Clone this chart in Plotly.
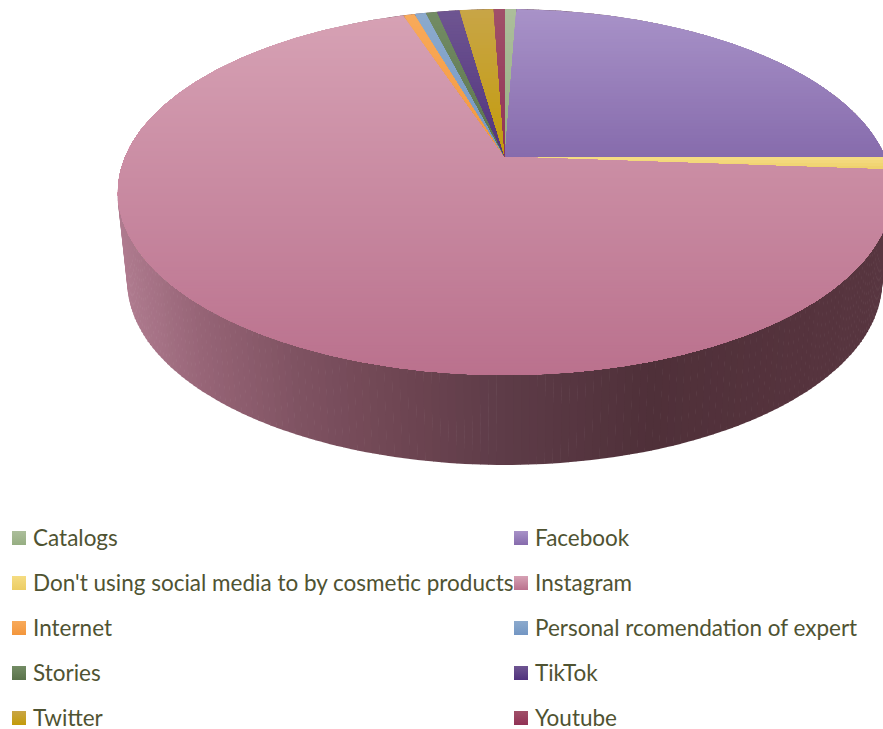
import numpy as np
import plotly.graph_objects as go

# Responses per source
categories = ["Catalogs", "Facebook", "Don't using social media to by cosmetic products",
              "Instagram", "Internet", "Personal rcomendation of expert",
              "Stories", "TikTok", "Twitter", "Youtube"]
counts = [1, 43, 2, 121, 1, 1, 1, 2, 3, 1]

# Vertical gradient per slice: upper and lower colour
upper_colors = [(172, 190, 155), (168, 146, 200), (245, 220, 130), (214, 161, 180), (248, 170, 90),
                (140, 170, 205), (115, 140, 100), (110, 85, 145), (200, 165, 70), (160, 80, 105)]
lower_colors = [(150, 174, 130), (134, 107, 172), (236, 205, 100), (186, 113, 141), (243, 150, 60),
                (115, 150, 195), (90, 115, 75), (80, 50, 125), (195, 155, 10), (145, 50, 85)]

# Shading of the outer wall from left to right
wall_stops_x = [118, 200, 300, 400, 500, 650, 800, 890]
wall_stops_rgb = [(176, 124, 144), (150, 100, 118), (126, 82, 97), (110, 69, 82),
                  (94, 60, 72), (79, 48, 57), (85, 51, 61), (88, 54, 64)]

# Perspective disc: horizontal and vertical scale, tilt, hub position, extrusion
DISC_A, DISC_B, TILT = 380.0, 176.3, 0.191
HUB_X, HUB_Y = 505.0, 157.0
TOP_CENTER_Y, BASE_CENTER_Y = 192.0, 282.0
BASE_WIDTH_RATIO = 377.0 / 387.0


def project(theta):
    """Map a clockwise angle from twelve o'clock to a point on the tilted disc."""
    u, v = np.sin(theta), -np.cos(theta)
    w = 1 - TILT * v
    return HUB_X + DISC_A * u / w, HUB_Y + DISC_B * v / w


def clip_below(xs, ys, limit):
    """Keep the part of a polygon lying at or below the horizontal line y = limit."""
    out_x, out_y = [], []
    n = len(xs)
    for i in range(n):
        x0, y0, x1, y1 = xs[i], ys[i], xs[(i + 1) % n], ys[(i + 1) % n]
        if y0 >= limit:
            out_x.append(x0)
            out_y.append(y0)
        if (y0 >= limit) != (y1 >= limit):
            t = (limit - y0) / (y1 - y0)
            out_x.append(x0 + t * (x1 - x0))
            out_y.append(limit)
    return out_x, out_y


def rgb(c):
    return f"rgb({c[0]:.0f},{c[1]:.0f},{c[2]:.0f})"


def polygon(xs, ys, color):
    return go.Scatter(x=list(xs) + [xs[0]], y=list(ys) + [ys[0]], mode="lines", fill="toself",
                      fillcolor=color, line=dict(width=0), hoverinfo="skip", showlegend=False)


fig = go.Figure()

# Outer wall, drawn as thin strips under the top face
edge = np.linspace(0, 2 * np.pi, 361)
ex, ey = project(edge)
bx = HUB_X + (ex - HUB_X) * BASE_WIDTH_RATIO
by = ey - TOP_CENTER_Y + BASE_CENTER_Y
for i in np.argsort(ey[:-1]):
    mid = 0.5 * (ex[i] + ex[i + 1])
    shade = [np.interp(mid, wall_stops_x, [s[c] for s in wall_stops_rgb]) for c in range(3)]
    fig.add_trace(go.Scatter(
        x=[ex[i], ex[i + 1] + 0.6 * np.sign(ex[i + 1] - ex[i]), bx[i + 1] + 0.6 * np.sign(ex[i + 1] - ex[i]), bx[i], ex[i]],
        y=[ey[i], ey[i + 1], by[i + 1], by[i], ey[i]],
        mode="lines", fill="toself", fillcolor=rgb(shade), line=dict(width=0),
        hoverinfo="skip", showlegend=False))

# Top face, each slice painted in overlapping horizontal bands
fractions = np.cumsum([0] + counts) / sum(counts)
for k in range(len(categories)):
    steps = max(8, int(900 * (fractions[k + 1] - fractions[k])))
    theta = np.linspace(fractions[k] * 2 * np.pi, fractions[k + 1] * 2 * np.pi, steps)
    px, py = project(theta)
    xs, ys = [HUB_X] + list(px), [HUB_Y] + list(py)
    y_min, y_max = min(ys), max(ys)
    for limit in np.arange(y_min, y_max, 3.0):
        t = (limit - y_min) / (y_max - y_min)
        color = [upper_colors[k][c] + t * (lower_colors[k][c] - upper_colors[k][c]) for c in range(3)]
        cx, cy = clip_below(xs, ys, limit)
        if len(cx) >= 3:
            fig.add_trace(polygon(cx, cy, rgb(color)))

# Two-column key with gradient swatches
annotations = []
for k, name in enumerate(categories):
    col, row = k % 2, k // 2
    sx = 19 + col * 502
    sy = 538 + row * 45
    fig.add_trace(go.Scatter(
        x=[sx], y=[sy], mode="markers", hoverinfo="skip", showlegend=False,
        marker=dict(symbol="square", size=14, color=rgb(upper_colors[k]), line=dict(width=0),
                    gradient=dict(type="vertical", color=rgb(lower_colors[k])))))
    annotations.append(dict(x=sx + 12, y=sy - 1, xref="x", yref="y", text=name, showarrow=False,
                            xanchor="left", yanchor="middle", align="left",
                            font=dict(family="Lato", size=22.5, color="#4F5332")))

fig.update_layout(
    width=883, height=729, margin=dict(l=0, r=0, t=0, b=0, pad=0),
    paper_bgcolor="white", plot_bgcolor="white", showlegend=False,
    xaxis=dict(range=[0, 883], visible=False, fixedrange=True),
    yaxis=dict(range=[729, 0], visible=False, fixedrange=True),
    annotations=annotations,
)
fig.write_html("out.html")
